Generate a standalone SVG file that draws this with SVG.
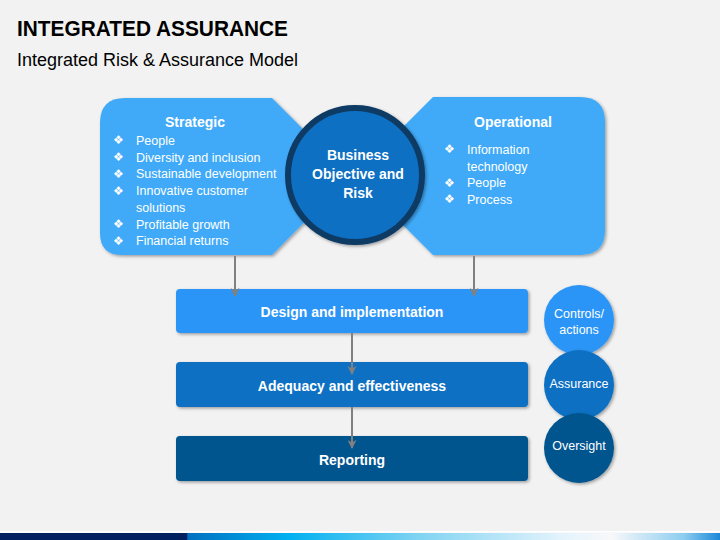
<svg xmlns="http://www.w3.org/2000/svg" width="720" height="540" viewBox="0 0 720 540">
<defs>
<style>
.t{font-family:"Liberation Sans",Arial,sans-serif;fill:#fff}
.b{font-weight:bold}
.bul{font-family:"DejaVu Sans",sans-serif;fill:#fff;font-size:12px}
.conn{stroke:#808080;stroke-width:2;fill:none;marker-end:url(#ah)}
</style>
<filter id="sh" x="-10%" y="-10%" width="120%" height="130%">
<feDropShadow dx="1.5" dy="1.5" stdDeviation="1.8" flood-color="#000" flood-opacity="0.35"/>
</filter>
<marker id="ah" viewBox="0 0 10 10" refX="9" refY="5" markerWidth="4.5" markerHeight="4.5" orient="auto" markerUnits="strokeWidth">
<path d="M0,0 L10,5 L0,10 L3,5 Z" fill="#808080"/>
</marker>
<linearGradient id="bar" x1="0" y1="0" x2="720" y2="0" gradientUnits="userSpaceOnUse">
<stop offset="0" stop-color="#002060"/>
<stop offset="0.259" stop-color="#002060"/>
<stop offset="0.261" stop-color="#0070c0"/>
<stop offset="0.40" stop-color="#00b0f0"/>
<stop offset="0.58" stop-color="#7fd3f3"/>
<stop offset="0.78" stop-color="#e3f3fc"/>
<stop offset="0.85" stop-color="#f8f8fa"/>
<stop offset="0.95" stop-color="#8ccdf0"/>
<stop offset="1" stop-color="#1a88d8"/>
</linearGradient>
</defs>
<rect width="720" height="540" fill="#f2f2f2"/>
<rect x="0" y="531" width="720" height="1.5" fill="#ffffff"/>
<rect x="0" y="533" width="720" height="7" fill="url(#bar)"/>

<g id="title">
<text x="17" y="36" class="b" style="font-family:'Liberation Sans',Arial,sans-serif;font-size:22px;fill:#000" textLength="271" lengthAdjust="spacingAndGlyphs">INTEGRATED ASSURANCE</text>
<text x="17" y="66" style="font-family:'Liberation Sans',Arial,sans-serif;font-size:17.5px;fill:#000" textLength="281" lengthAdjust="spacingAndGlyphs">Integrated Risk &amp; Assurance Model</text>
</g>

<g id="strategic">
<path d="M125,98 H272 L345,171 V181 L272,255 H122 Q100,255 100,233 V123 Q100,98 125,98 Z" fill="#40aaf8" filter="url(#sh)"/>
<text x="195" y="127" class="t b" font-size="14" text-anchor="middle">Strategic</text>
<g class="bul">
<text x="113" y="144">❖</text>
<text x="113" y="161">❖</text>
<text x="113" y="178">❖</text>
<text x="113" y="194.5">❖</text>
<text x="113" y="228">❖</text>
<text x="113" y="245">❖</text>
</g>
<g class="t" font-size="12.5">
<text x="136" y="144.5">People</text>
<text x="136" y="161.5">Diversity and inclusion</text>
<text x="136" y="178">Sustainable development</text>
<text x="136" y="195">Innovative customer</text>
<text x="136" y="211.5">solutions</text>
<text x="136" y="228.5">Profitable growth</text>
<text x="136" y="245">Financial returns</text>
</g>
</g>

<g id="operational">
<path d="M433,97 H580 Q605,97 605,122 V230 Q605,255 580,255 H433 L360,182 V170 Z" fill="#40aaf8" filter="url(#sh)"/>
<text x="513" y="127" class="t b" font-size="14" text-anchor="middle">Operational</text>
<g class="bul">
<text x="444" y="153">❖</text>
<text x="444" y="186.5">❖</text>
<text x="444" y="203">❖</text>
</g>
<g class="t" font-size="12.5">
<text x="467" y="153.5">Information</text>
<text x="467" y="170.5">technology</text>
<text x="467" y="187">People</text>
<text x="467" y="203.5">Process</text>
</g>
</g>

<g id="business">
<circle cx="355" cy="175" r="67" fill="#0a6fc2" stroke="#0c3a64" stroke-width="6" filter="url(#sh)"/>
<g class="t b" font-size="14" text-anchor="middle">
<text x="358" y="160">Business</text>
<text x="358" y="179">Objective and</text>
<text x="358" y="198">Risk</text>
</g>
</g>

<g id="design">
<rect x="176" y="289" width="352" height="44" rx="4" fill="#2c95f7" filter="url(#sh)"/>
<text x="352" y="317" class="t b" font-size="14" text-anchor="middle">Design and implementation</text>
</g>
<g id="adequacy">
<rect x="176" y="362" width="352" height="45" rx="4" fill="#0a6fc2" filter="url(#sh)"/>
<text x="352" y="391" class="t b" font-size="14" text-anchor="middle">Adequacy and effectiveness</text>
</g>
<g id="reporting">
<rect x="176" y="436" width="352" height="45" rx="4" fill="#03548f" filter="url(#sh)"/>
<text x="352" y="465" class="t b" font-size="14" text-anchor="middle">Reporting</text>
</g>

<g id="controls">
<circle cx="579" cy="320" r="35" fill="#2c95f7" filter="url(#sh)"/>
<text x="579" y="318" class="t" font-size="12.5" text-anchor="middle">Controls/</text>
<text x="579" y="334" class="t" font-size="12.5" text-anchor="middle">actions</text>
</g>
<g id="assurance">
<circle cx="579" cy="385" r="35" fill="#0a6fc2" filter="url(#sh)"/>
<text x="579" y="388" class="t" font-size="12.5" text-anchor="middle">Assurance</text>
</g>
<g id="oversight">
<circle cx="579" cy="448" r="35" fill="#03548f" filter="url(#sh)"/>
<text x="579" y="450" class="t" font-size="12.5" text-anchor="middle">Oversight</text>
</g>

<g id="connectors">
<line class="conn" x1="235" y1="256" x2="235" y2="296"/>
<line class="conn" x1="474" y1="256" x2="474" y2="296"/>
<line class="conn" x1="352" y1="333" x2="352" y2="374"/>
<line class="conn" x1="352" y1="407" x2="352" y2="448"/>
</g>
</svg>
